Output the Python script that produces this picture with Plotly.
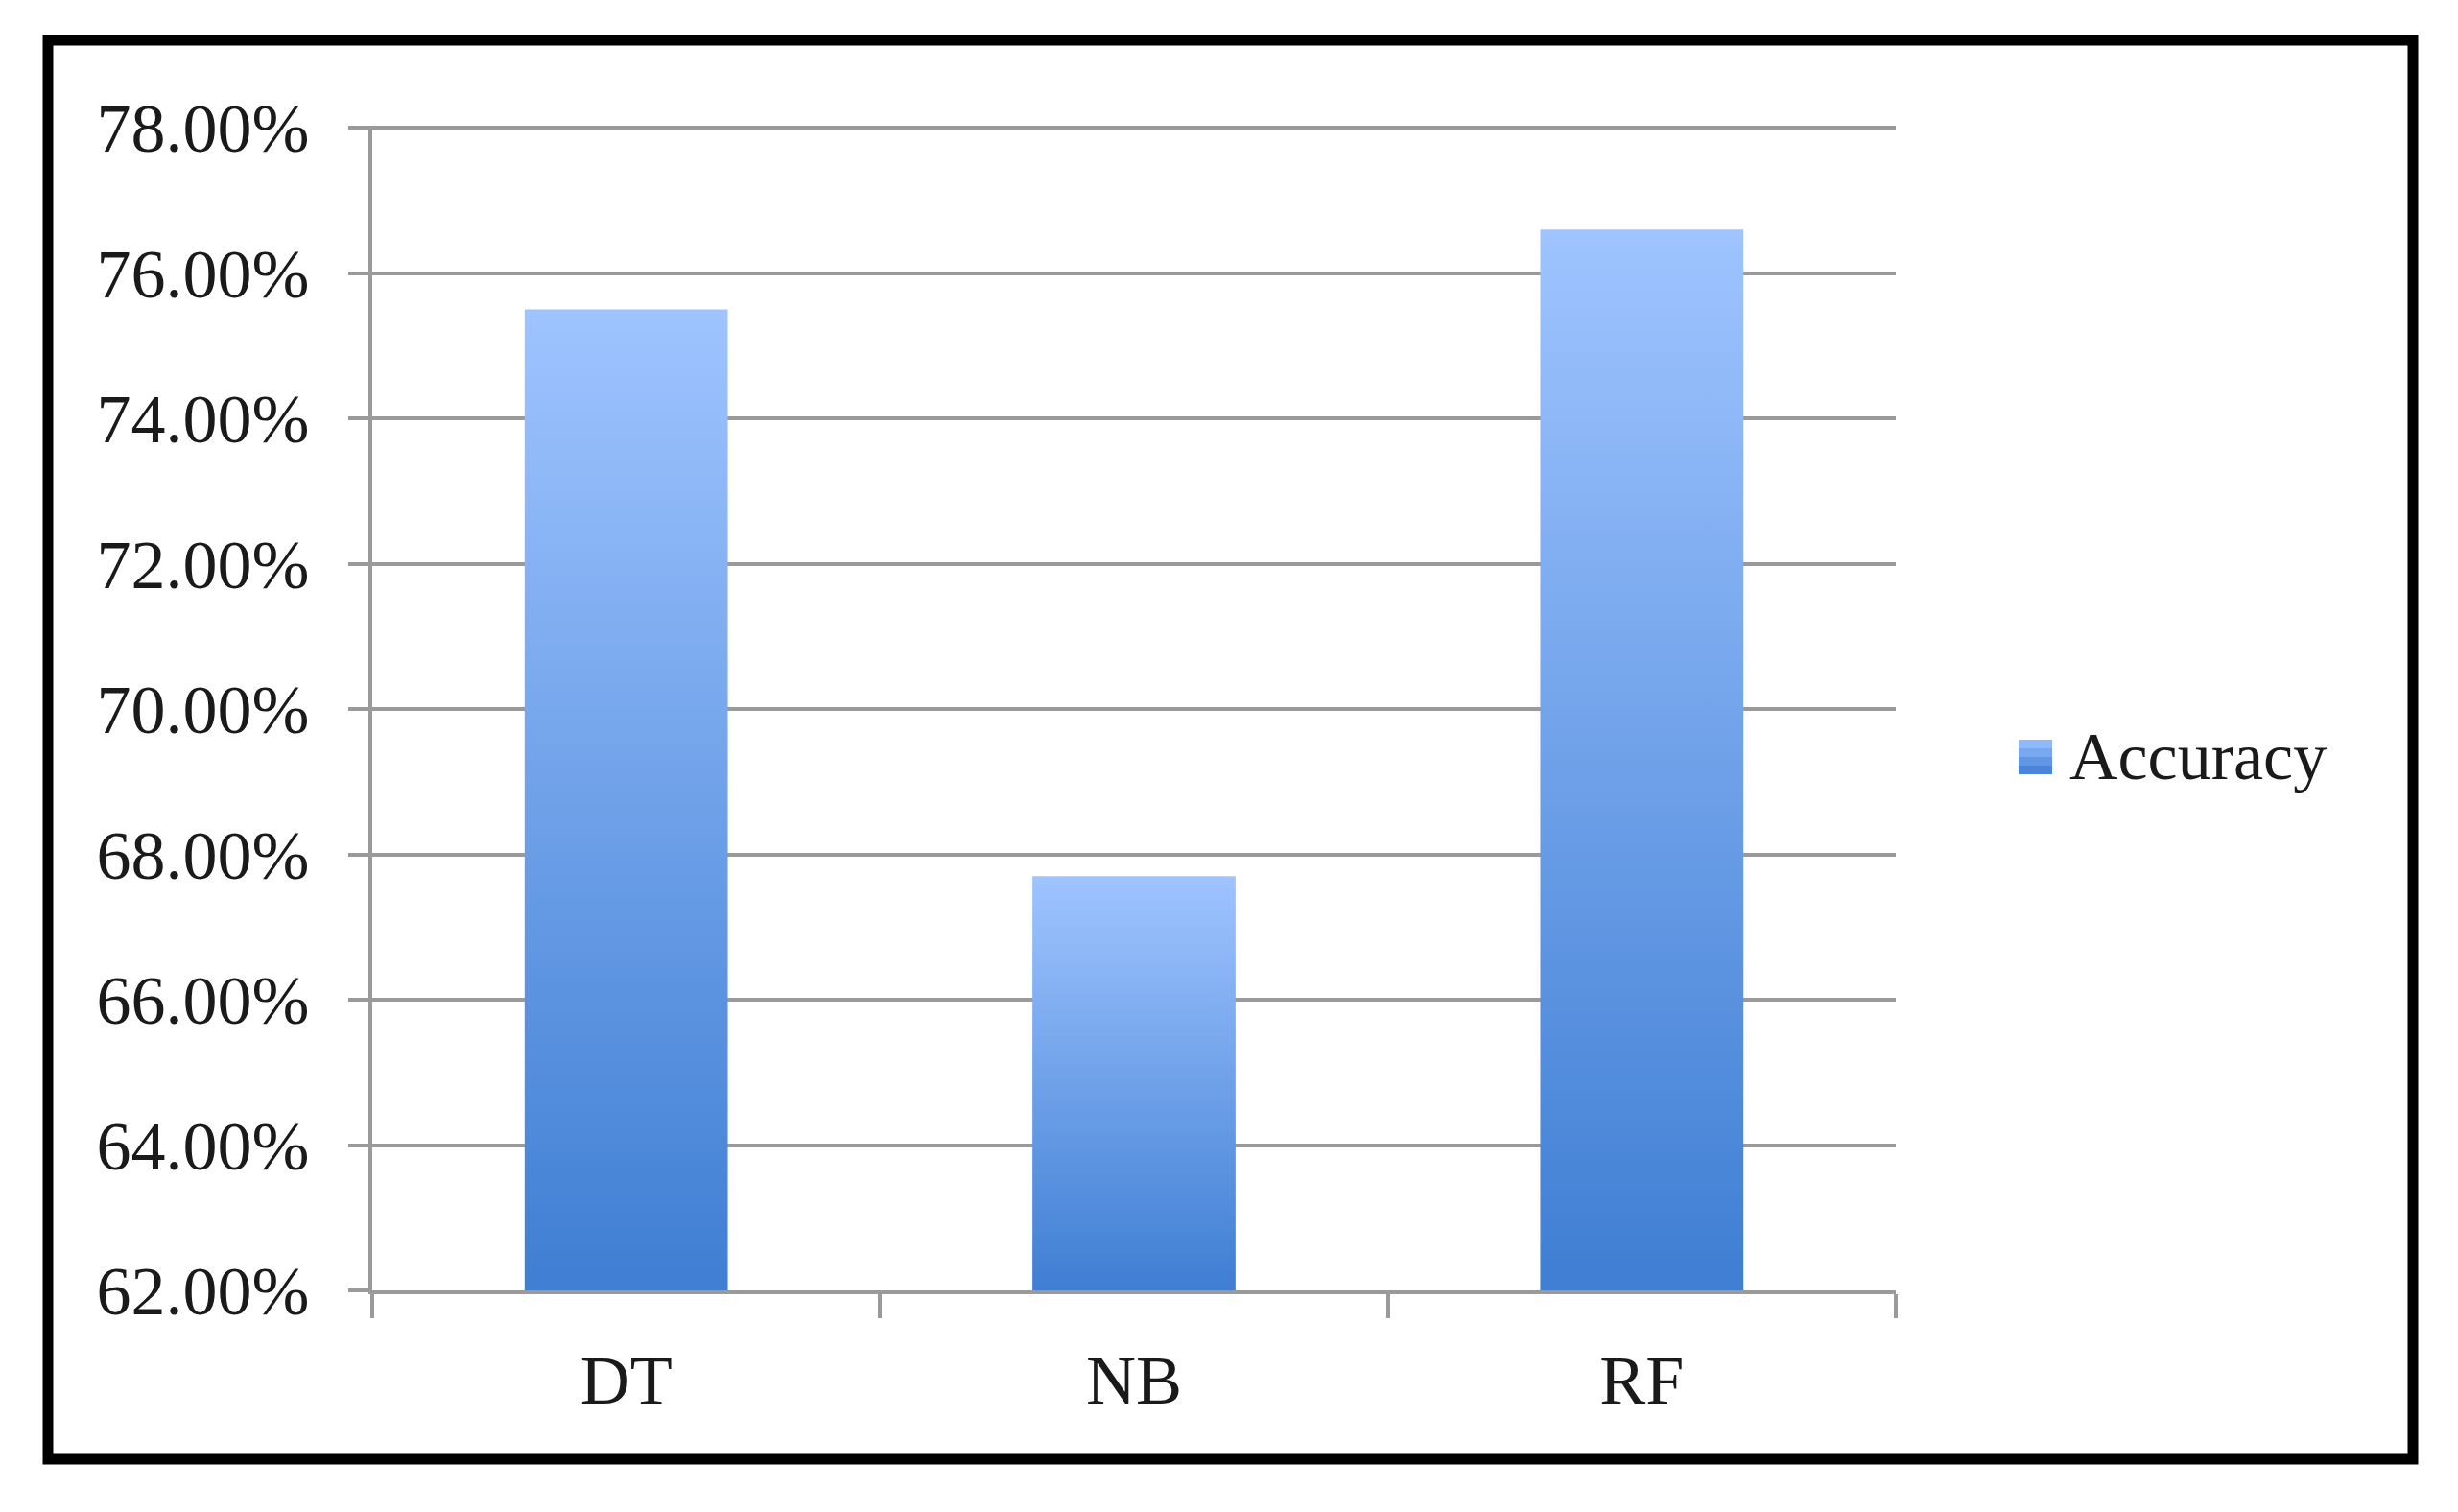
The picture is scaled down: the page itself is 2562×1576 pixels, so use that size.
import plotly.graph_objects as go

# Accuracy per model (percent)
models = ['DT', 'NB', 'RF']
accuracy = [75.5, 67.7, 76.6]
series_name = 'Accuracy'
y_min, y_max, y_step = 62, 78, 2

FIG_W, FIG_H = 2546, 1560
L, R, T, B = 380, 578, 123, 223
plot_w = FIG_W - L - R
plot_h = FIG_H - T - B


def px_to_paper(x, y):
    return (x - L) / plot_w, (FIG_H - B - y) / plot_h


font = 'Liberation Serif, Times New Roman, serif'
bar_half = 0.2
gradient = [[0, '#3f7ed3'], [1, '#9fc4ff']]

fig = go.Figure()
for i, (name, acc) in enumerate(zip(models, accuracy)):
    fig.add_trace(go.Scatter(
        x=[i - bar_half, i + bar_half, i + bar_half, i - bar_half, i - bar_half],
        y=[y_min, y_min, acc, acc, y_min],
        mode='none',
        fill='toself',
        fillgradient=dict(type='vertical', colorscale=gradient),
        name=series_name,
        showlegend=False,
        hoverinfo='skip',
    ))

# outer black frame
x0, y1 = px_to_paper(42, 34)
x1, y0 = px_to_paper(2507, 1513)
fig.add_shape(type='rect', xref='paper', yref='paper',
              x0=x0, x1=x1, y0=y0, y1=y1,
              line=dict(color='black', width=11), layer='below')

# legend: small square shaded light-to-dark + label
strip_colors = ['#8fb9f8', '#78a8ef', '#6096e4', '#4a85d9']
top, step = 763, 9
for k, c in enumerate(strip_colors):
    lx0, ly1 = px_to_paper(2096, top + k * step)
    lx1, ly0 = px_to_paper(2131, top + (k + 1) * step)
    fig.add_shape(type='rect', xref='paper', yref='paper',
                  x0=lx0, x1=lx1, y0=ly0, y1=ly1,
                  line=dict(width=0), fillcolor=c)
tx, ty = px_to_paper(2147, 780)
fig.add_annotation(xref='paper', yref='paper', x=tx, y=ty,
                   xanchor='left', yanchor='middle', showarrow=False,
                   text=series_name, font=dict(size=70))

axis_color = '#9a9a9a'
fig.update_layout(
    width=FIG_W, height=FIG_H,
    margin=dict(l=L, r=R, t=T, b=B),
    paper_bgcolor='white', plot_bgcolor='white',
    font=dict(family=font, size=72, color='#1a1a1a'),
    showlegend=False,
    xaxis=dict(
        range=[-0.5, len(models) - 0.5],
        tickvals=list(range(len(models))), ticktext=models,
        ticks='', showgrid=False, zeroline=False,
        showline=True, linecolor=axis_color, linewidth=4,
        ticklabelstandoff=28,
        minor=dict(tickvals=[k - 0.5 for k in range(len(models) + 1)],
                   ticks='outside', ticklen=25, tickwidth=4,
                   tickcolor=axis_color, showgrid=False),
    ),
    yaxis=dict(
        range=[y_min, y_max + 0.03], tick0=y_min, dtick=y_step,
        tickformat='.2f', ticksuffix='%',
        showgrid=True, gridcolor=axis_color, gridwidth=4,
        ticks='outside', ticklen=21, tickwidth=4, tickcolor=axis_color,
        showline=True, linecolor=axis_color, linewidth=4,
        zeroline=False, ticklabelstandoff=26,
    ),
)

fig.write_html('out.html')
